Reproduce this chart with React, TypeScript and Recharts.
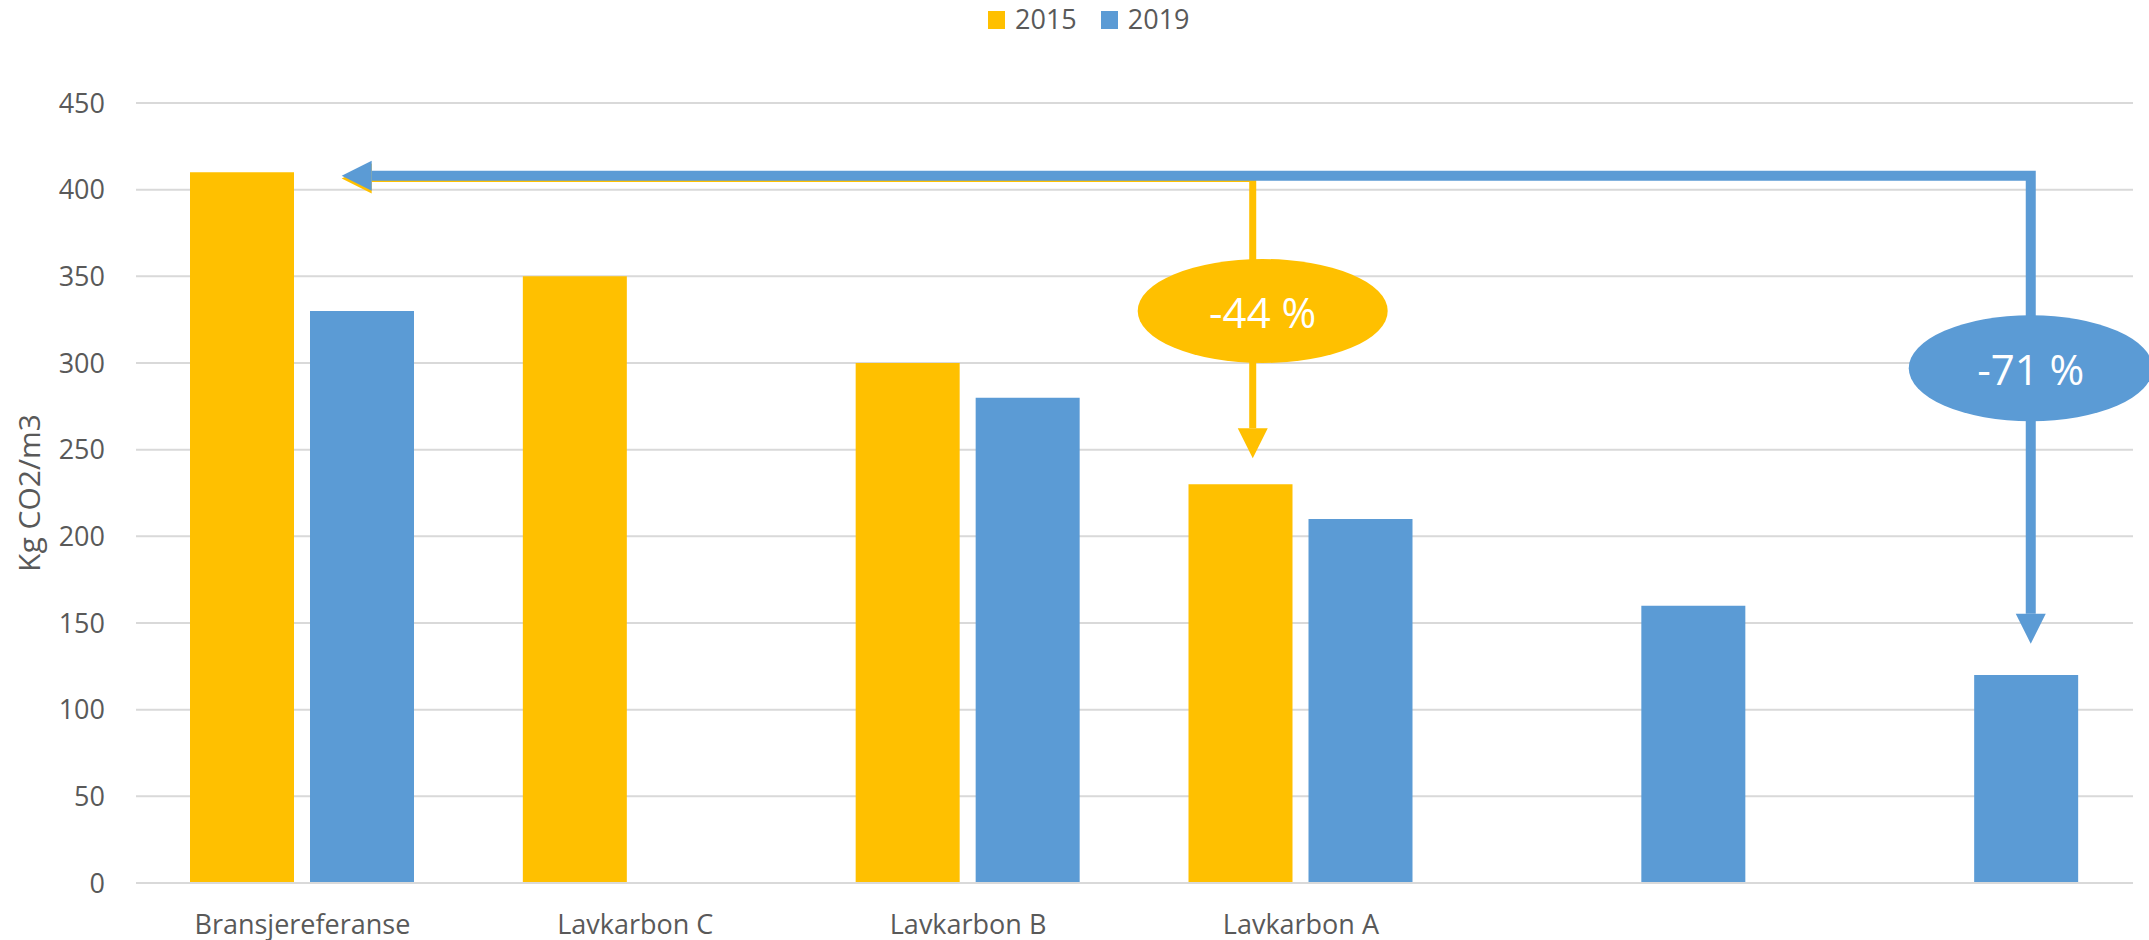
import React from 'react';
import {
  BarChart,
  Bar,
  XAxis,
  YAxis,
  CartesianGrid,
  Legend,
  ReferenceLine,
  ReferenceDot,
} from 'recharts';

const categories = ['Bransjereferanse', 'Lavkarbon C', 'Lavkarbon B', 'Lavkarbon A', '', ''];
const values2015 = [410, 350, 300, 230, null, null];
const values2019 = [330, null, 280, 210, 160, 120];
const yTicks = [0, 50, 100, 150, 200, 250, 300, 350, 400, 450];

// annotation anchors: x on the hidden 0..5 axis spanning the plot, y in axis values
const orangeArrow = { fromX: 0.515, fromY: 406.5, toX: 2.796, toY: 245 };
const blueArrow = { fromX: 0.515, fromY: 408, toX: 4.744, toY: 138 };
const orangeBubble = { x: 2.821, y: 330, label: '-44 %' };
const blueBubble = { x: 4.744, y: 297, label: '-71 %' };

const data = categories.map((name, i) => ({
  name,
  '2015': values2015[i],
  '2019': values2019[i],
}));

const ORANGE = '#FFC000';
const BLUE = '#5B9BD5';
const TEXT = '#595959';
const FONT = '"Open Sans", sans-serif';

function elbowArrow(color: string, width: number) {
  return (p: any) => {
    const { x1, y1, x2, y2 } = p;
    const head = 30;
    const hw = 15;
    return (
      <g>
        <path
          d={`M ${x1 + head} ${y1} H ${x2} V ${y2 - head}`}
          fill="none"
          stroke={color}
          strokeWidth={width}
          strokeLinejoin="miter"
        />
        <polygon points={`${x1},${y1} ${x1 + head},${y1 - hw} ${x1 + head},${y1 + hw}`} fill={color} />
        <polygon points={`${x2},${y2} ${x2 - hw},${y2 - head} ${x2 + hw},${y2 - head}`} fill={color} />
      </g>
    );
  };
}

function bubble(color: string, label: string, rx: number, ry: number) {
  return (p: any) => (
    <g>
      <ellipse cx={p.cx} cy={p.cy} rx={rx} ry={ry} fill={color} />
      <text
        x={p.cx}
        y={p.cy}
        textAnchor="middle"
        dominantBaseline="central"
        fill="#ffffff"
        fontSize={42}
        fontFamily={FONT}
      >
        {label}
      </text>
    </g>
  );
}

const renderLegend = () => (
  <div style={{ display: 'flex', alignItems: 'flex-start', fontFamily: FONT, fontSize: 27, lineHeight: '27px', color: TEXT }}>
    {[{ k: '2015', c: ORANGE }, { k: '2019', c: BLUE }].map((it, i) => (
      <div key={it.k} style={{ display: 'flex', alignItems: 'flex-start', marginLeft: i ? 24 : 0 }}>
        <span style={{ width: 17, height: 18, background: it.c, marginTop: 6, marginRight: 10 }} />
        <span>{it.k}</span>
      </div>
    ))}
  </div>
);

export default function App() {
  return (
    <div style={{ position: 'absolute', left: 0, top: 0, background: '#fff' }}>
      <BarChart
        width={2149}
        height={940}
        data={data}
        margin={{ top: 103, right: 16, left: 0, bottom: 0 }}
        barSize={104}
        barGap={16}
        style={{ fontFamily: FONT }}
      >
        <CartesianGrid vertical={false} stroke="#d9d9d9" strokeWidth={2} />
        <XAxis
          dataKey="name"
          height={57}
          tickLine={false}
          axisLine={{ stroke: '#d9d9d9', strokeWidth: 2 }}
          tick={{ fill: TEXT, fontSize: 27 }}
          tickMargin={26}
          interval={0}
        />
        <XAxis xAxisId="n" type="number" domain={[0, 5]} hide allowDataOverflow />
        <YAxis
          width={136}
          domain={[0, 450]}
          ticks={yTicks}
          interval={0}
          axisLine={false}
          tickLine={false}
          tick={{ fill: TEXT, fontSize: 27 }}
          tickMargin={25}
          label={{
            value: 'Kg CO2/m3',
            angle: -90,
            position: 'insideLeft',
            offset: 29,
            fill: TEXT,
            fontSize: 30,
            style: { textAnchor: 'middle' },
          }}
        />
        <Legend
          verticalAlign="middle"
          align="center"
          layout="horizontal"
          wrapperStyle={{ top: 5, left: 988, width: 'auto', height: 'auto' }}
          content={renderLegend}
        />
        <Bar dataKey="2015" fill={ORANGE} isAnimationActive={false} />
        <Bar dataKey="2019" fill={BLUE} isAnimationActive={false} />
        <ReferenceLine
          xAxisId="n"
          ifOverflow="visible"
          segment={[
            { x: orangeArrow.fromX, y: orangeArrow.fromY },
            { x: orangeArrow.toX, y: orangeArrow.toY },
          ]}
          shape={elbowArrow(ORANGE, 7)}
        />
        <ReferenceLine
          xAxisId="n"
          ifOverflow="visible"
          segment={[
            { x: blueArrow.fromX, y: blueArrow.fromY },
            { x: blueArrow.toX, y: blueArrow.toY },
          ]}
          shape={elbowArrow(BLUE, 10)}
        />
        <ReferenceDot
          xAxisId="n"
          x={orangeBubble.x}
          y={orangeBubble.y}
          ifOverflow="visible"
          shape={bubble(ORANGE, orangeBubble.label, 125, 52)}
        />
        <ReferenceDot
          xAxisId="n"
          x={blueBubble.x}
          y={blueBubble.y}
          ifOverflow="visible"
          shape={bubble(BLUE, blueBubble.label, 122, 53)}
        />
      </BarChart>
    </div>
  );
}
